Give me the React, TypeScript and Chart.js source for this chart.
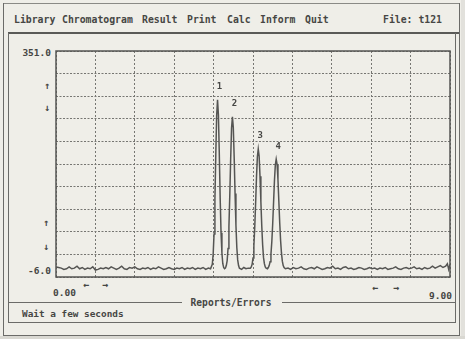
import React, { useEffect, useRef } from "react";
import { Chart, registerables } from "chart.js";

Chart.register(...registerables);

// ---- data ----
const xMin = 0;
const xMax = 9;
const yMin = -6;
const yMax = 351;
const xGridTicks = [0, 0.9, 1.8, 2.7, 3.6, 4.5, 5.4, 6.3, 7.2, 8.1, 9];
const yGridTicks = [-6, 29.7, 65.4, 101.1, 136.8, 172.5, 208.2, 243.9, 279.6, 315.3, 351];
const yAxisLabels = ["351.0", "-6.0"];
const xAxisLabels = ["0.00", "9.00"];
const peakNames = ["1", "2", "3", "4"];
const peakTimes = [3.69, 4.03, 4.62, 5.03];
const menuItems = ["Library", "Chromatogram", "Result", "Print", "Calc", "Inform", "Quit"];
const fileLabel = "File: t121";
const statusTitle = "Reports/Errors";
const statusText = "Wait a few seconds";

// time (min), signal
const trace: [number, number][] = [
  [0.0, 10], [0.06, 9], [0.12, 8], [0.18, 6], [0.24, 7], [0.3, 10], [0.36, 7], [0.42, 8], [0.48, 11], [0.54, 7],
  [0.6, 9], [0.66, 6], [0.72, 8], [0.78, 7], [0.84, 10], [0.9, 5], [0.96, 6], [1.02, 8], [1.08, 7], [1.14, 9],
  [1.2, 7], [1.26, 10], [1.32, 8], [1.38, 6], [1.44, 8], [1.5, 11], [1.56, 7], [1.62, 6], [1.68, 9], [1.74, 8],
  [1.8, 10], [1.86, 7], [1.92, 6], [1.98, 8], [2.04, 7], [2.1, 9], [2.16, 6], [2.22, 8], [2.28, 7], [2.34, 10],
  [2.4, 8], [2.46, 6], [2.52, 7], [2.58, 9], [2.64, 7], [2.7, 6], [2.76, 8], [2.82, 7], [2.88, 9], [2.94, 6],
  [3.0, 8], [3.06, 7], [3.12, 9], [3.18, 6], [3.24, 8], [3.3, 7], [3.36, 9], [3.42, 6], [3.48, 8], [3.53, 7],
  [3.57, 14], [3.59, 30], [3.61, 62], [3.63, 117], [3.65, 187], [3.67, 249], [3.69, 274], [3.71, 250], [3.73, 189],
  [3.75, 119], [3.77, 64], [3.79, 32], [3.81, 15], [3.83, 9],
  [3.85, 7], [3.87, 8], [3.89, 12], [3.91, 20], [3.93, 39], [3.95, 74], [3.97, 124], [3.99, 181], [4.01, 229],
  [4.03, 247], [4.05, 230], [4.07, 183], [4.09, 126], [4.11, 76], [4.13, 41], [4.15, 21], [4.17, 12], [4.19, 8],
  [4.24, 6], [4.29, 9], [4.34, 7], [4.39, 8],
  [4.44, 8], [4.46, 10], [4.48, 14], [4.5, 24], [4.52, 43], [4.54, 73], [4.56, 111], [4.58, 152], [4.6, 184],
  [4.62, 196], [4.64, 185], [4.66, 153], [4.68, 113], [4.7, 75], [4.72, 45], [4.74, 25], [4.76, 15], [4.78, 10], [4.8, 8],
  [4.83, 7], [4.85, 9], [4.87, 12], [4.89, 18], [4.91, 30], [4.93, 50], [4.95, 78], [4.97, 112], [4.99, 146], [5.01, 171],
  [5.03, 180], [5.05, 172], [5.07, 148], [5.09, 114], [5.11, 80], [5.13, 52], [5.15, 32], [5.17, 19], [5.19, 12], [5.21, 9], [5.24, 7],
  [5.3, 8], [5.36, 6], [5.42, 9], [5.48, 7], [5.54, 8], [5.6, 10], [5.66, 7], [5.72, 6], [5.78, 8], [5.84, 9],
  [5.9, 7], [5.96, 10], [6.02, 8], [6.08, 6], [6.14, 7], [6.2, 9], [6.26, 8], [6.32, 11], [6.38, 7], [6.44, 8],
  [6.5, 6], [6.56, 9], [6.62, 10], [6.68, 7], [6.74, 8], [6.8, 6], [6.86, 7], [6.92, 9], [6.98, 8], [7.04, 6],
  [7.1, 7], [7.16, 9], [7.22, 7], [7.28, 8], [7.34, 6], [7.4, 8], [7.46, 7], [7.52, 9], [7.58, 6], [7.64, 7],
  [7.7, 8], [7.76, 10], [7.82, 7], [7.88, 6], [7.94, 8], [8.0, 9], [8.06, 7], [8.12, 8], [8.18, 10], [8.24, 7],
  [8.3, 8], [8.36, 6], [8.42, 9], [8.48, 7], [8.54, 8], [8.6, 11], [8.66, 8], [8.72, 10], [8.78, 12], [8.84, 9],
  [8.9, 11], [8.94, 15], [8.97, 6], [9.0, 14],
];

// ---- layout ----
const W = 465;
const H = 339;
const INK = "#464644";
const LINE = "#6b6b68";
const FONT = "'DejaVu Sans Mono', 'Liberation Mono', monospace";
const menuX = [14, 62, 142, 187, 227, 260, 305];

const framePlugin = {
  id: "frame",
  afterDraw(chart: any) {
    const { ctx, chartArea: a, scales } = chart;
    ctx.save();
    ctx.setLineDash([]);
    ctx.strokeStyle = "#555553";
    ctx.lineWidth = 1.5;
    ctx.strokeRect(a.left, a.top, a.right - a.left, a.bottom - a.top);
    // peak numbers
    ctx.fillStyle = INK;
    ctx.font = "bold 9px " + FONT;
    ctx.textAlign = "center";
    ctx.textBaseline = "middle";
    peakTimes.forEach((t, i) => {
      const p = trace.find((d) => d[0] === t);
      if (!p) return;
      const px = scales.x.getPixelForValue(t);
      const py = scales.y.getPixelForValue(p[1]);
      ctx.fillText(peakNames[i], px + 2, py - 13);
    });
    ctx.restore();
  },
};

function Line(props: { l: number; t: number; w: number; h: number; c?: string }) {
  return (
    <div
      style={{
        position: "absolute",
        left: props.l,
        top: props.t,
        width: props.w,
        height: props.h,
        background: props.c || LINE,
      }}
    />
  );
}

function Txt(props: {
  x: number;
  y: number;
  size: number;
  children: React.ReactNode;
  align?: "left" | "right" | "center";
}) {
  const align = props.align || "left";
  const style: React.CSSProperties = {
    position: "absolute",
    top: props.y - props.size / 2,
    fontFamily: FONT,
    fontWeight: "bold",
    fontSize: props.size,
    lineHeight: props.size + "px",
    color: INK,
    whiteSpace: "pre",
  };
  if (align === "left") style.left = props.x;
  else if (align === "right") style.right = W - props.x;
  else {
    style.left = props.x - 100;
    style.width = 200;
    style.textAlign = "center";
  }
  return <div style={style}>{props.children}</div>;
}

export default function App() {
  const ref = useRef<HTMLCanvasElement | null>(null);

  useEffect(() => {
    if (!ref.current) return;
    const chart = new Chart(ref.current, {
      type: "scatter",
      data: {
        datasets: [
          {
            data: trace.map((d) => ({ x: d[0], y: d[1] })),
            showLine: true,
            borderColor: "#555553",
            borderWidth: 1.5,
            pointRadius: 0,
            tension: 0,
          },
        ],
      },
      options: {
        animation: false,
        responsive: false,
        devicePixelRatio: 1,
        layout: { padding: { left: 56, top: 51, right: W - 450, bottom: H - 277 } },
        plugins: { legend: { display: false }, tooltip: { enabled: false } },
        scales: {
          x: {
            type: "linear",
            min: xMin,
            max: xMax,
            afterBuildTicks: (s: any) => {
              s.ticks = xGridTicks.map((v) => ({ value: v }));
            },
            ticks: { display: false },
            grid: { color: "#767672", lineWidth: 1, drawTicks: false },
            border: { display: false, dash: [2, 2] },
          },
          y: {
            type: "linear",
            min: yMin,
            max: yMax,
            afterBuildTicks: (s: any) => {
              s.ticks = yGridTicks.map((v) => ({ value: v }));
            },
            ticks: { display: false },
            grid: { color: "#767672", lineWidth: 1, drawTicks: false },
            border: { display: false, dash: [2, 1.5] },
          },
        },
      },
      plugins: [framePlugin],
    });
    return () => chart.destroy();
  }, []);

  return (
    <div
      style={{
        position: "fixed",
        left: 0,
        top: 0,
        width: W,
        height: H,
        background: "#efeee8",
        overflow: "hidden",
      }}
    >
      {/* shadows of the scan */}
      <div style={{ position: "absolute", left: 461, top: 0, width: 4, height: H, background: "#e2e1dc" }} />
      <div style={{ position: "absolute", left: 0, top: 336, width: W, height: 3, background: "#d9d8d2" }} />

      {/* screen frame */}
      <Line l={3} t={3} w={457} h={1} c="#8a8a86" />
      <Line l={3} t={3} w={1} h={333} />
      <Line l={459} t={3} w={1} h={333} />
      <Line l={8} t={32} w={451} h={2} c="#5a5a57" />
      <Line l={8} t={33} w={1} h={290} />
      <Line l={455} t={33} w={1} h={290} />
      <Line l={8} t={302} w={174} h={1} />
      <Line l={282} t={302} w={173} h={1} />
      <Line l={8} t={322} w={448} h={1} />
      <Line l={3} t={335} w={457} h={1} />

      {/* menu */}
      {menuItems.map((m, i) => (
        <Txt key={m} x={menuX[i]} y={20} size={9.8}>
          {m}
        </Txt>
      ))}
      <Txt x={383} y={20} size={9.8}>
        {fileLabel}
      </Txt>

      {/* axis labels */}
      <Txt x={51} y={53} size={9.5} align="right">
        {yAxisLabels[0]}
      </Txt>
      <Txt x={51} y={271} size={9.5} align="right">
        {yAxisLabels[1]}
      </Txt>
      <Txt x={53} y={293} size={9.5}>
        {xAxisLabels[0]}
      </Txt>
      <Txt x={452} y={296} size={9.5} align="right">
        {xAxisLabels[1]}
      </Txt>

      {/* cursor marks */}
      <Txt x={47} y={86} size={10} align="center">↑</Txt>
      <Txt x={47} y={108} size={10} align="center">↓</Txt>
      <Txt x={46} y={223} size={10} align="center">↑</Txt>
      <Txt x={46} y={247} size={10} align="center">↓</Txt>
      <Txt x={86} y={285} size={10} align="center">←</Txt>
      <Txt x={105} y={285} size={10} align="center">→</Txt>
      <Txt x={375} y={288} size={10} align="center">←</Txt>
      <Txt x={396} y={288} size={10} align="center">→</Txt>

      {/* status */}
      <div
        style={{
          position: "absolute",
          left: 187,
          top: 297,
          width: 90,
          height: 11,
          background: "#efeee8",
        }}
      />
      <Txt x={231} y={303} size={9.6} align="center">
        {statusTitle}
      </Txt>
      <Txt x={22} y={314} size={9.4}>
        {statusText}
      </Txt>

      <canvas
        ref={ref}
        width={W}
        height={H}
        style={{ position: "absolute", left: 0, top: 0, width: W, height: H }}
      />
    </div>
  );
}
